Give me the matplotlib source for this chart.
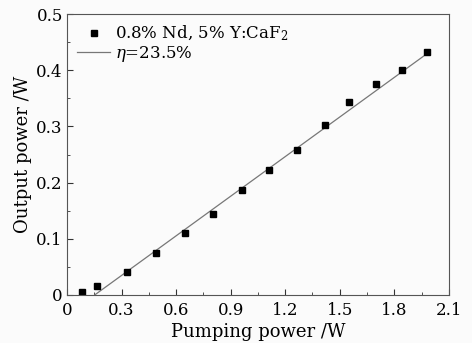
import matplotlib
matplotlib.use("Agg")
import matplotlib.pyplot as plt
import numpy as np
from matplotlib.ticker import MultipleLocator

# measured points
pump = [0.085, 0.167, 0.328, 0.490, 0.651, 0.805, 0.963, 1.111, 1.267, 1.417, 1.553, 1.698, 1.843, 1.980]
output = [0.005, 0.016, 0.041, 0.074, 0.110, 0.145, 0.187, 0.223, 0.258, 0.303, 0.344, 0.376, 0.401, 0.433]

# linear fit, slope efficiency 23.5%
fit_x = [0.152, 1.98]
slope = 0.235

xticks = [0, 0.3, 0.6, 0.9, 1.2, 1.5, 1.8, 2.1]
xlabels = ['0', '0.3', '0.6', '0.9', '1.2', '1.5', '1.8', '2.1']
yticks = [0, 0.1, 0.2, 0.3, 0.4, 0.5]
ylabels = ['0', '0.1', '0.2', '0.3', '0.4', '0.5']

plt.rcParams['font.family'] = ['DejaVu Serif']
plt.rcParams['mathtext.fontset'] = 'dejavuserif'

fig = plt.figure(figsize=(4.72, 3.43), dpi=100, facecolor='#fbfbfb')
ax = fig.add_axes([0.142, 0.140, 0.809, 0.819], facecolor='#fbfbfb')

fx = np.array(fit_x)
ax.plot(fx, slope * (fx - fit_x[0]), color='#777777', lw=0.9, label=r'$\eta$=23.5%')
ax.plot(pump, output, ls='none', marker='s', ms=5, color='black',
        label=r'0.8% Nd, 5% Y:CaF$_2$')

ax.set_xlim(0, 2.1)
ax.set_ylim(0, 0.5)
ax.set_xticks(xticks)
ax.set_xticklabels(xlabels)
ax.set_yticks(yticks)
ax.set_yticklabels(ylabels)
ax.xaxis.set_minor_locator(MultipleLocator(0.15))
ax.yaxis.set_minor_locator(MultipleLocator(0.05))
ax.tick_params(which='both', direction='in', top=False, right=False,
               labelsize=12, colors='#333333', labelcolor='black')
ax.tick_params(which='major', length=4)
ax.tick_params(which='minor', length=2.5)
ax.tick_params(axis='x', which='major', pad=5)
ax.tick_params(axis='y', which='major', pad=3)
for s in ax.spines.values():
    s.set_color('#555555')

ax.set_xlabel('Pumping power /W', fontsize=13, labelpad=3)
ax.set_ylabel('Output power /W', fontsize=13, labelpad=3)

h, l = ax.get_legend_handles_labels()
ax.legend([h[1], h[0]], [l[1], l[0]], loc='upper left', frameon=False,
          fontsize=12, handlelength=2.0, handletextpad=0.3,
          borderaxespad=0.2, labelspacing=0.05)

fig.savefig('out.png', dpi=100, facecolor=fig.get_facecolor())
